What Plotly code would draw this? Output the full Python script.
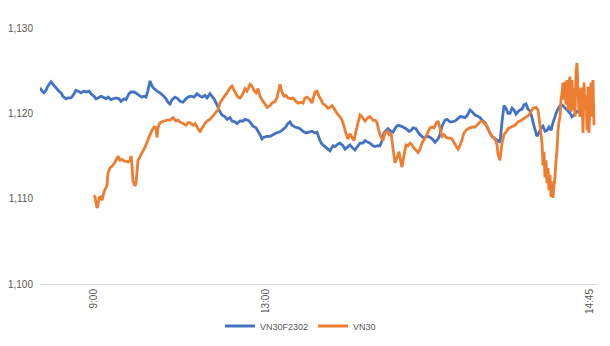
import plotly.graph_objects as go

# Intraday VN30F2302 futures vs VN30 index, sampled by tick row number
vn30f_row = [
    0, 2, 4, 6, 8, 11, 13, 16, 18, 21,
    23, 26, 28, 31, 33, 36, 38, 41, 44, 46,
    49, 51, 54, 56, 58, 61, 63, 66, 68, 71,
    73, 76, 79, 81, 84, 86, 89, 91, 94, 97,
    99, 102, 104, 106, 108, 110, 112, 114, 117, 120,
    123, 126, 128, 130, 132, 135, 138, 140, 143, 146,
    148, 151, 154, 157, 159, 162, 165, 167, 170, 172,
    174, 177, 179, 182, 185, 187, 190, 192, 195, 197,
    200, 203, 205, 208, 210, 213, 216, 218, 220, 222,
    224, 227, 230, 233, 236, 239, 242, 245, 248, 250,
    252, 255, 258, 260, 263, 266, 269, 272, 275, 277,
    280, 282, 285, 288, 290, 293, 295, 298, 300, 303,
    305, 308, 310, 313, 315, 318, 320, 323, 325, 328,
    330, 333, 335, 338, 340, 342, 344, 346, 348, 351,
    353, 356, 358, 361, 363, 366, 369, 371, 373, 376,
    378, 380, 383, 385, 388, 390, 393, 395, 398, 400,
    402, 405, 407, 410, 412, 415, 417, 420, 422, 425,
    427, 430, 432, 435, 437, 440, 442, 445, 447, 450,
    452, 455, 458, 460, 462, 464, 466, 468, 470, 472,
    474, 476, 478, 480, 482, 484, 486, 488, 490, 492,
    494, 497, 499, 501, 503, 505, 507, 509, 511, 513,
    515, 517, 519, 521, 523, 526, 528, 530, 532, 534,
    537, 540, 543, 546, 549, 552,
]
vn30f_val = [
    1123.0, 1122.6, 1122.4, 1122.7, 1123.2, 1123.7, 1123.4, 1123.0, 1122.7, 1122.4,
    1122.0, 1121.7, 1121.8, 1121.8, 1122.1, 1122.7, 1122.6, 1122.4, 1122.6, 1122.5,
    1122.6, 1122.3, 1122.0, 1121.7, 1121.8, 1122.0, 1121.9, 1121.7, 1121.9, 1121.6,
    1121.7, 1121.8, 1121.7, 1121.4, 1121.7, 1121.6, 1122.3, 1122.5, 1122.5, 1122.3,
    1122.1, 1121.9, 1122.0, 1121.9, 1122.7, 1123.8, 1123.2, 1122.9, 1122.6, 1122.4,
    1122.1, 1121.7, 1121.3, 1121.1, 1121.6, 1121.9, 1121.7, 1121.4, 1121.3, 1121.7,
    1121.9, 1122.0, 1121.9, 1122.3, 1122.1, 1121.9, 1122.1, 1121.8, 1122.3, 1122.0,
    1121.7, 1121.0, 1120.4, 1119.8, 1119.6, 1119.3, 1119.5, 1119.1, 1119.0, 1118.8,
    1119.1, 1119.1, 1119.3, 1119.2, 1119.0, 1118.5, 1118.3, 1117.9, 1117.5, 1117.0,
    1117.2, 1117.3, 1117.3, 1117.5, 1117.7, 1117.8, 1118.0, 1118.3, 1118.8, 1119.0,
    1118.6, 1118.4, 1118.3, 1118.2, 1117.9, 1117.7, 1117.8, 1117.9, 1117.7, 1117.8,
    1116.8, 1116.4, 1116.1, 1115.8, 1115.6, 1116.2, 1116.1, 1116.4, 1116.5, 1116.2,
    1115.8, 1116.1, 1116.3, 1115.9, 1115.7, 1116.2, 1116.5, 1116.5, 1116.8, 1116.6,
    1116.5, 1116.2, 1116.1, 1116.2, 1116.2, 1116.8, 1117.7, 1118.0, 1118.2, 1117.9,
    1117.8, 1118.4, 1118.6, 1118.5, 1118.4, 1118.2, 1117.9, 1118.0, 1118.3, 1118.2,
    1117.8, 1117.5, 1117.2, 1117.2, 1117.3, 1117.2, 1116.9, 1116.6, 1117.0, 1117.5,
    1118.5, 1119.2, 1119.3, 1119.0, 1119.0, 1119.1, 1119.3, 1119.6, 1119.6, 1119.5,
    1119.7, 1120.4, 1120.2, 1119.8, 1119.7, 1119.5, 1119.2, 1118.9, 1118.4, 1117.7,
    1117.3, 1117.0, 1116.8, 1116.6, 1119.0, 1120.9, 1120.6, 1120.0, 1120.0, 1120.6,
    1120.4, 1119.9, 1120.2, 1120.4, 1120.5, 1121.0, 1121.1, 1120.5, 1120.3, 1119.5,
    1118.5, 1117.3, 1117.7, 1118.3, 1118.5, 1117.9, 1118.0, 1118.4, 1118.0, 1118.9,
    1119.6, 1120.3, 1120.7, 1121.0, 1120.9, 1120.5, 1120.3, 1120.0, 1119.6, 1119.8,
    1120.2, 1120.4, 1120.6, 1120.7, 1120.5, 1120.4,
]

vn30_row = [
    54, 55, 57, 58, 59, 61, 62, 64, 66, 67,
    68, 70, 72, 74, 76, 78, 80, 82, 84, 86,
    88, 90, 91, 92, 93, 95, 96, 97, 98, 100,
    102, 104, 106, 108, 110, 112, 114, 116, 117, 118,
    120, 122, 124, 127, 130, 133, 136, 138, 140, 143,
    146, 148, 150, 153, 155, 157, 160, 162, 165, 167,
    170, 173, 175, 178, 180, 182, 185, 187, 190, 192,
    194, 196, 198, 200, 202, 205, 207, 210, 212, 214,
    216, 218, 220, 223, 225, 227, 230, 232, 235, 237,
    240, 242, 244, 246, 248, 251, 253, 256, 258, 261,
    263, 265, 267, 270, 272, 275, 277, 279, 281, 283,
    285, 288, 290, 292, 295, 297, 300, 302, 304, 306,
    308, 310, 312, 314, 316, 318, 320, 322, 325, 328,
    330, 333, 335, 337, 339, 341, 343, 345, 347, 349,
    351, 353, 355, 357, 359, 361, 362, 364, 366, 368,
    370, 372, 374, 376, 378, 380, 382, 384, 386, 388,
    390, 392, 394, 396, 398, 400, 402, 404, 406, 408,
    410, 412, 414, 416, 418, 420, 422, 424, 426, 428,
    430, 433, 435, 437, 440, 442, 445, 447, 450, 452,
    455, 457, 458, 460, 462, 464, 466, 468, 470, 473,
    475, 478, 480, 483, 485, 488, 490, 493, 496, 498,
    500, 502, 503, 504, 505, 506, 507, 508, 509, 510,
    511, 512, 513, 514, 515, 516, 517, 518, 519, 520,
    521, 522, 523, 524, 525, 526, 527, 528, 529, 530,
    531, 532, 533, 534, 535, 536, 537, 538, 539, 540,
    541, 542, 543, 544, 545, 546, 547, 548, 549, 550,
    551, 552, 553, 554,
]
vn30_val = [
    1110.4, 1110.2, 1108.9, 1109.2, 1110.1, 1110.2, 1109.8, 1110.8, 1111.3, 1111.6,
    1113.0, 1113.6, 1113.8, 1114.1, 1114.5, 1115.0, 1114.5, 1114.6, 1114.4, 1114.4,
    1114.3, 1114.5, 1115.0, 1113.9, 1112.1, 1111.5, 1111.8, 1113.1, 1114.5, 1114.9,
    1115.4, 1115.8, 1116.3, 1116.9, 1117.5, 1118.0, 1118.4, 1118.3, 1117.2, 1118.3,
    1118.9, 1119.0, 1119.1, 1119.2, 1119.2, 1119.5, 1119.1, 1119.2, 1119.0, 1118.8,
    1118.6, 1118.9, 1118.9, 1118.6, 1118.8, 1118.4, 1117.8, 1118.3, 1118.8, 1119.1,
    1119.3, 1119.7, 1120.0, 1120.4, 1121.2, 1121.6, 1122.1, 1122.4, 1123.0, 1123.2,
    1122.7, 1122.3, 1121.9, 1121.8, 1122.1, 1122.9, 1122.6, 1123.4, 1123.2, 1122.7,
    1122.4, 1122.9, 1122.0, 1121.4, 1121.1, 1120.7, 1120.9, 1121.2, 1121.4, 1121.8,
    1123.4, 1122.5, 1122.0, 1122.1, 1121.8, 1121.7, 1121.8, 1121.4, 1121.2, 1121.3,
    1121.2, 1121.8, 1121.9, 1121.6, 1121.2, 1122.5, 1122.6, 1122.0, 1121.6, 1121.1,
    1121.0, 1120.6, 1120.7, 1120.9, 1120.4, 1120.0, 1119.6, 1119.2, 1118.5, 1117.6,
    1117.0, 1117.6, 1117.2, 1116.8, 1117.9, 1118.9, 1119.8, 1119.6, 1119.1, 1119.5,
    1119.6, 1119.2, 1119.2, 1118.9, 1117.9, 1117.2, 1116.8, 1117.7, 1117.9, 1117.5,
    1117.7, 1115.9, 1114.2, 1114.8, 1115.5, 1114.2, 1113.7, 1115.1, 1116.3, 1116.2,
    1116.5, 1116.3, 1115.9, 1115.7, 1115.4, 1115.8, 1116.5, 1116.9, 1117.3, 1117.8,
    1118.3, 1118.4, 1118.3, 1118.8, 1119.1, 1118.3, 1117.3, 1117.5, 1117.2, 1117.1,
    1117.1, 1117.0, 1116.6, 1116.2, 1115.8, 1116.2, 1116.9, 1117.7, 1118.0, 1118.2,
    1118.3, 1118.4, 1118.4, 1118.6, 1119.0, 1119.1, 1118.8, 1118.5, 1117.7, 1117.3,
    1117.0, 1116.3, 1115.2, 1114.5, 1116.5, 1117.5, 1117.8, 1118.2, 1118.3, 1118.5,
    1118.6, 1119.0, 1119.1, 1119.3, 1119.5, 1119.7, 1120.0, 1120.6, 1120.7, 1120.4,
    1118.6, 1116.5, 1113.9, 1115.5, 1112.5, 1114.5, 1111.8, 1113.6, 1111.0, 1112.8,
    1110.2, 1112.0, 1110.1, 1111.6, 1112.5, 1114.5, 1115.7, 1118.0, 1119.0, 1119.6,
    1121.6, 1122.4, 1123.6, 1121.6, 1123.7, 1121.0, 1123.9, 1120.4, 1123.6, 1124.3,
    1120.2, 1123.9, 1120.4, 1123.0, 1119.6, 1124.8, 1125.9, 1122.7, 1120.4, 1119.6,
    1123.0, 1122.4, 1117.7, 1123.6, 1120.4, 1122.1, 1118.0, 1123.1, 1117.7, 1121.0,
    1123.6, 1119.6, 1123.9, 1118.6,
]

# Time-of-day labels attached to specific tick rows
time_rows = [54, 226, 550]
time_labels = ["9:00", "13:00", "14:45"]
y_ticks = [1100, 1110, 1120, 1130]

assert len(vn30f_row) == len(vn30f_val)
assert len(vn30_row) == len(vn30_val)

BLUE = "#4472C4"
ORANGE = "#ED7D31"
TEXT = "#595959"
FONT = "Liberation Sans"

fig = go.Figure()
fig.add_trace(go.Scatter(
    x=vn30f_row, y=vn30f_val, mode="lines", name="VN30F2302",
    line=dict(color=BLUE, width=2.8, simplify=False),
))
fig.add_trace(go.Scatter(
    x=vn30_row, y=vn30_val, mode="lines", name="VN30",
    line=dict(color=ORANGE, width=2.8, simplify=False),
))

fig.update_layout(
    width=610, height=346,
    margin=dict(l=40, r=13, t=28, b=62, autoexpand=False),
    paper_bgcolor="white", plot_bgcolor="white",
    font=dict(family=FONT, size=10, color=TEXT),
    showlegend=True,
    legend=dict(
        orientation="h", xref="container", yref="container",
        x=220 / 610, xanchor="left", y=20 / 346, yanchor="middle",
        font=dict(family=FONT, size=9, color=TEXT),
        itemwidth=30, tracegroupgap=0,
    ),
)
fig.update_xaxes(
    range=[0, 557], tickmode="array", tickvals=time_rows, ticktext=time_labels,
    tickangle=-90, showgrid=False, zeroline=False, ticks="", automargin=False,
    showline=True, linecolor="#D9D9D9", linewidth=1,
    tickfont=dict(family=FONT, size=10, color=TEXT),
)
fig.update_yaxes(
    range=[1100, 1130], tickmode="array", tickvals=y_ticks, tickformat=",d",
    showgrid=False, zeroline=False, showline=False, ticks="", automargin=False,
    ticklabelstandoff=6,
    tickfont=dict(family=FONT, size=10, color=TEXT),
)

fig.write_html("out.html")
